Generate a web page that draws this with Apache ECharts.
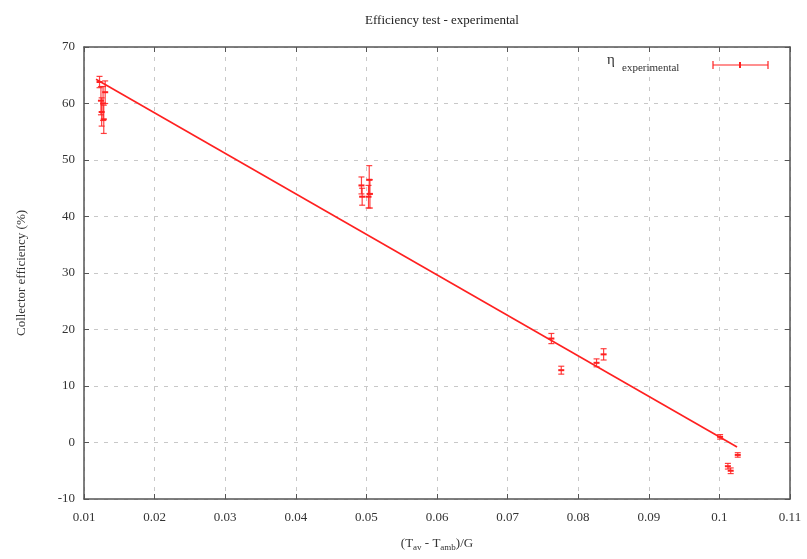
<!DOCTYPE html>
<html>
<head>
<meta charset="utf-8">
<script src="https://cdn.jsdelivr.net/npm/echarts@6/dist/echarts.min.js"></script>
<style>
  html, body { margin: 0; padding: 0; background: #fff; }
  #chart { width: 807px; height: 559px; }
</style>
</head>
<body>
<div id="chart"></div>
<script>
// measured points (x, efficiency, +/- error)
var effX   = [0.0122, 0.0124, 0.0127, 0.0125, 0.0128, 0.0130,
              0.0493, 0.0494, 0.0504, 0.0505, 0.0503,
              0.0762, 0.0776, 0.0826, 0.0836,
              0.1001, 0.1026, 0.1012, 0.1016];
var effY   = [63.8, 60.5, 60.0, 58.5, 57.2, 62.0,
              45.5, 43.5, 46.5, 44.0, 43.5,
              18.4, 12.8, 14.1, 15.6,
              1.0, -2.2, -4.2, -5.0];
var effErr = [1.0, 2.5, 3.0, 2.5, 2.5, 2.0,
              1.5, 1.5, 2.5, 2.5, 2.0,
              0.9, 0.7, 0.7, 1.0,
              0.4, 0.4, 0.5, 0.5];
// fitted line
var fitX = [0.0117, 0.1025];
var fitY = [64.3, -0.8];

var red = '#ff2020';
var serif = '"Liberation Serif", "DejaVu Serif", serif';

var errData = effX.map(function (x, i) { return [x, effY[i], effErr[i]]; });
var fitData = fitX.map(function (x, i) { return [x, fitY[i]]; });

var chart = echarts.init(document.getElementById('chart'));

function renderErr(params, api) {
  var x = api.value(0), y = api.value(1), e = api.value(2);
  var top = api.coord([x, y + e]);
  var bot = api.coord([x, y - e]);
  var mid = api.coord([x, y]);
  var st = { stroke: red, lineWidth: 1.2, opacity: 0.85 };
  return {
    type: 'group',
    children: [
      { type: 'line', shape: { x1: top[0], y1: top[1], x2: bot[0], y2: bot[1] }, style: st },
      { type: 'line', shape: { x1: top[0] - 3, y1: top[1], x2: top[0] + 3, y2: top[1] }, style: st },
      { type: 'line', shape: { x1: bot[0] - 3, y1: bot[1], x2: bot[0] + 3, y2: bot[1] }, style: st },
      { type: 'line', shape: { x1: mid[0] - 3, y1: mid[1], x2: mid[0] + 3, y2: mid[1] }, style: { stroke: red, lineWidth: 2 } }
    ]
  };
}

var axisLine = { onZero: false, lineStyle: { color: '#555', width: 1.5 } };
var grid = { type: [4, 6], color: '#c8c8c8', width: 1 };

var option = {
  animation: false,
  backgroundColor: '#fff',
  title: {
    text: 'Efficiency test - experimental',
    left: 437, top: 9, textAlign: 'center',
    textStyle: { fontFamily: serif, fontSize: 13, fontWeight: 'normal', color: '#222' }
  },
  grid: { left: 84, right: 17, top: 47, bottom: 60 },
  xAxis: [{
    type: 'value', min: 0.01, max: 0.11, interval: 0.01,
    axisLine: axisLine,
    axisTick: { inside: true, length: 5, lineStyle: { color: '#555' } },
    axisLabel: { fontFamily: serif, fontSize: 13, color: '#333', margin: 12 },
    splitLine: { show: true, lineStyle: grid },
    name: '(T{s|av} - T{s|amb})/G',
    nameLocation: 'middle', nameGap: 36,
    nameTextStyle: {
      fontFamily: serif, fontSize: 13, color: '#333',
      rich: { s: { fontFamily: serif, fontSize: 9, color: '#333', padding: [8, 0, 0, 0] } }
    }
  }, {
    type: 'value', position: 'top', min: 0.01, max: 0.11, interval: 0.01,
    axisLine: axisLine,
    axisTick: { inside: true, length: 5, lineStyle: { color: '#555' } },
    axisLabel: { show: false }, splitLine: { show: false }
  }],
  yAxis: [{
    type: 'value', min: -10, max: 70, interval: 10,
    axisLine: { show: true, onZero: false, lineStyle: axisLine.lineStyle },
    axisTick: { show: true, inside: true, length: 5, lineStyle: { color: '#555' } },
    axisLabel: { fontFamily: serif, fontSize: 13, color: '#333', margin: 9 },
    splitLine: { show: true, lineStyle: grid },
    name: 'Collector efficiency (%)',
    nameLocation: 'middle', nameGap: 56,
    nameTextStyle: { fontFamily: serif, fontSize: 13, color: '#333' }
  }, {
    type: 'value', position: 'right', min: -10, max: 70, interval: 10,
    axisLine: { show: true, onZero: false, lineStyle: axisLine.lineStyle },
    axisTick: { show: true, inside: true, length: 5, lineStyle: { color: '#555' } },
    axisLabel: { show: false }, splitLine: { show: false }
  }],
  series: [{
    type: 'line', data: fitData, showSymbol: false,
    lineStyle: { color: red, width: 1.6 }
  }, {
    type: 'custom', data: errData, renderItem: renderErr
  }],
  graphic: [
    { type: 'text', left: 607, top: 53, style: { text: 'η', fontFamily: serif, fontSize: 15, fill: '#333' } },
    { type: 'text', left: 622, top: 63, style: { text: 'experimental', fontFamily: serif, fontSize: 11, fill: '#333' } },
    { type: 'line', shape: { x1: 713, y1: 65, x2: 768, y2: 65 }, style: { stroke: red, lineWidth: 1.2 } },
    { type: 'line', shape: { x1: 713, y1: 61, x2: 713, y2: 69 }, style: { stroke: red, lineWidth: 1.2 } },
    { type: 'line', shape: { x1: 768, y1: 61, x2: 768, y2: 69 }, style: { stroke: red, lineWidth: 1.2 } },
    { type: 'line', shape: { x1: 740, y1: 62, x2: 740, y2: 68 }, style: { stroke: red, lineWidth: 2 } }
  ]
};

chart.setOption(option);
</script>
</body>
</html>
